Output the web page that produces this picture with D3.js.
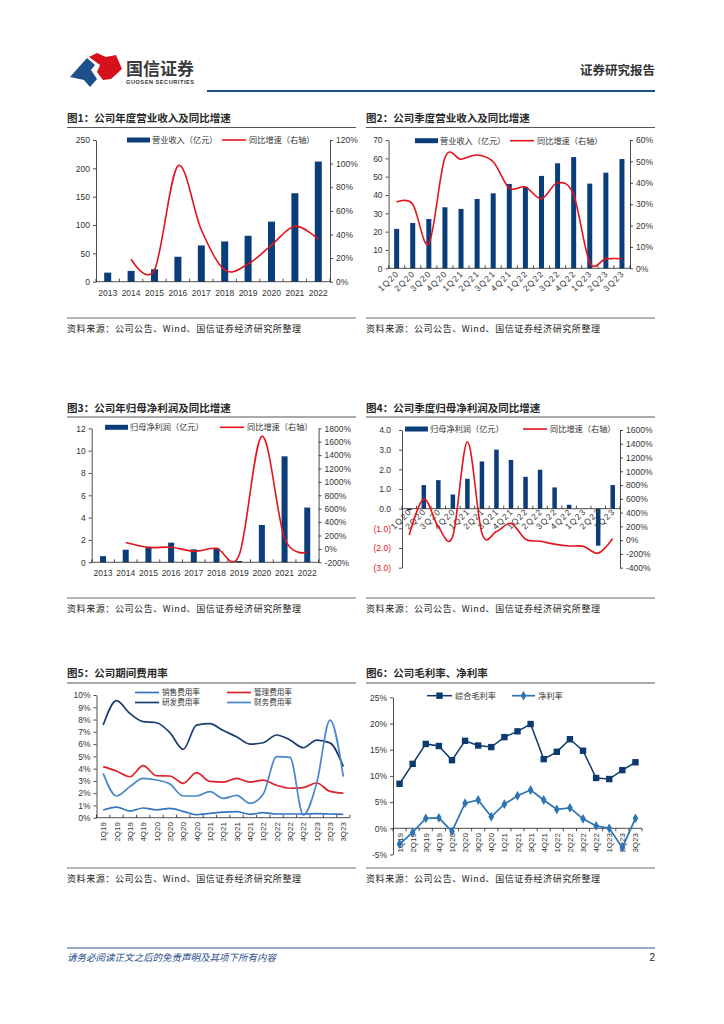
<!DOCTYPE html>
<html><head><meta charset="utf-8">
<script src="https://cdn.jsdelivr.net/npm/d3@7/dist/d3.min.js"></script>
<style>
body{margin:0;background:#fff;}
svg{display:block;}
</style></head><body>
<svg id="page" width="724" height="1024"></svg>
<script>
// ---------------- DATA ----------------
const years = ['2013','2014','2015','2016','2017','2018','2019','2020','2021','2022'];
const annualRevenue = [16,19,22,44,64,71,81,106,156,212];            // 亿元
const annualRevenueGrowth = [null,19,10,98,44,10,15,31,47,36];        // %
const revLeftTicks = [0,50,100,150,200,250];
const revRightTicks = [0,20,40,60,80,100,120];

const quarters = ['1Q20','2Q20','3Q20','4Q20','1Q21','2Q21','3Q21','4Q21','1Q22','2Q22','3Q22','4Q22','1Q23','2Q23','3Q23'];
const quarterlyRevenue = [21.5,24.7,26.9,33.3,32.4,37.8,40.9,46.0,44.5,50.4,57.3,60.7,46.2,52.2,59.6];
const quarterlyRevenueGrowth = [31,30,11.5,51.7,51,53,49.8,37.5,38,32.5,40,34.3,2.8,4.4,4.5];
const qRevLeftTicks = [0,10,20,30,40,50,60,70];
const qRevRightTicks = [0,10,20,30,40,50,60];

const annualProfit = [0.55,1.13,1.4,1.76,1.16,1.25,0.12,3.34,9.49,4.9];
const annualProfitGrowth = [null,95,22,25,-34,9,-92,1680,160,-48];
const profLeftTicks = [0,2,4,6,8,10,12];
const profRightTicks = [-200,0,200,400,600,800,1000,1200,1400,1600,1800];

const quarterlyProfit = [-0.08,1.2,1.45,0.72,1.52,2.4,3.0,2.48,1.62,1.98,1.08,0.2,0.01,-1.88,1.2];
const quarterlyProfitGrowth = [75,597,195,62,1430,100,125,244,14,-15,-58,-85,-90,-188,25];
const qProfLeftTicks = [-3,-2,-1,0,1,2,3,4];
const qProfRightTicks = [-400,-200,0,200,400,600,800,1000,1200,1400,1600];

const quarters19 = ['1Q19','2Q19','3Q19','4Q19','1Q20','2Q20','3Q20','4Q20','1Q21','2Q21','3Q21','4Q21','1Q22','2Q22','3Q22','4Q22','1Q23','2Q23','3Q23'];
const salesExpenseRate   = [0.63,0.87,0.54,0.79,0.65,0.76,0.52,0.24,0.35,0.46,0.49,0.27,0.41,0.30,0.30,0.30,0.33,0.30,0.27];
const adminExpenseRate   = [4.16,3.80,3.34,4.24,3.42,3.40,2.80,3.67,2.96,2.90,3.20,2.90,3.07,2.64,2.40,2.45,2.83,2.15,2.00];
const rdExpenseRate      = [7.55,9.54,8.50,7.83,7.74,6.93,5.57,7.55,7.66,7.10,6.60,6.00,6.11,6.74,6.33,5.70,6.33,6.10,4.16];
const financeExpenseRate = [3.61,1.77,2.53,3.20,3.07,2.74,1.77,1.77,2.12,1.58,1.82,1.17,1.93,4.97,4.92,0.22,2.80,7.96,3.34];
const expenseTicks = [0,1,2,3,4,5,6,7,8,9,10];

const grossMargin = [8.5,12.3,16.1,15.7,13.0,16.7,15.8,15.5,17.4,18.5,19.9,13.2,14.6,17.0,14.8,9.6,9.4,11.1,12.6];
const netMargin   = [-3.0,-0.8,1.9,2.0,-0.6,4.8,5.4,2.2,4.6,6.2,7.3,5.4,3.6,3.9,1.8,0.45,0.0,-3.7,1.9];
const marginTicks = [-5,0,5,10,15,20,25];

// ---------------- STYLE ----------------
const CN = '"Noto Sans CJK SC","Noto Sans",sans-serif';
const NUM = '"Liberation Sans",Arial,sans-serif';
const NAVY = '#0A3D79', RED = '#E3141C';
const svg = d3.select('#page');
svg.append('rect').attr('width',724).attr('height',1024).attr('fill','#fff');

// ---------------- HEADER / FOOTER ----------------
const logo = svg.append('g');
logo.append('path').attr('d','M70,77 L87,58 L95,65 L91,70 L97,79 L90,87 L84,80 Z').attr('fill','#1F4E8C');
logo.append('path').attr('d','M89,57 L97,53 L106,57 L116,55 L122,69 L111,79 L103,80 L97,72 L100,65 Z').attr('fill','#D7101E');
svg.append('text').attr('x',126).attr('y',75).attr('font-family',CN).attr('font-size',17).attr('font-weight','bold').attr('fill','#3a3a3a').attr('textLength',68).text('国信证券');
svg.append('text').attr('x',126).attr('y',84).attr('font-family',NUM).attr('font-size',5.6).attr('font-weight','bold').attr('fill','#333').attr('textLength',68).text('GUOSEN SECURITIES');
svg.append('line').attr('x1',207).attr('x2',655).attr('y1',91).attr('y2',91).attr('stroke','#1F4E8C').attr('stroke-width',2);
svg.append('text').attr('x',655).attr('y',75).attr('text-anchor','end').attr('font-family',CN).attr('font-size',12.5).attr('font-weight','bold').attr('fill','#333').text('证券研究报告');

svg.append('line').attr('x1',67).attr('x2',655).attr('y1',948).attr('y2',948).attr('stroke','#2F5597').attr('stroke-width',1);
svg.append('text').attr('x',67).attr('y',961).attr('font-family',CN).attr('font-size',9.5).attr('font-style','italic').attr('fill','#1F4E8C').text('请务必阅读正文之后的免责声明及其项下所有内容');
svg.append('text').attr('x',655).attr('y',961).attr('text-anchor','end').attr('font-family',NUM).attr('font-size',10).attr('fill','#222').text('2');

// ---------------- PANEL FRAMES ----------------
const SRC = '资料来源：公司公告、Wind、国信证券经济研究所整理';
function frame(x, title, titleY, underY, srcLineY, srcY){
  svg.append('text').attr('x',x).attr('y',titleY).attr('font-family',CN).attr('font-size',10.5).attr('font-weight','bold').attr('fill','#2a2a2a').text(title);
  svg.append('line').attr('x1',x).attr('x2',x+289).attr('y1',underY).attr('y2',underY).attr('stroke','#555').attr('stroke-width',1);
  svg.append('line').attr('x1',x).attr('x2',x+289).attr('y1',srcLineY).attr('y2',srcLineY).attr('stroke','#444').attr('stroke-width',0.8);
  svg.append('text').attr('x',x).attr('y',srcY).attr('font-family',CN).attr('font-size',9).attr('fill','#222').attr('textLength',234).text(SRC);
}
frame(67,'图1：公司年度营业收入及同比增速',122,127.5,318,332);
frame(366,'图2：公司季度营业收入及同比增速',122,127.5,318,332);
frame(67,'图3：公司年归母净利润及同比增速',412,417,598,612);
frame(366,'图4：公司季度归母净利润及同比增速',412,417,598,612);
frame(67,'图5：公司期间费用率',677,683,868,882);
frame(366,'图6：公司毛利率、净利率',677,683,868,882);

function styleAxis(sel, fs){
  sel.select('.domain').attr('stroke','#222').attr('stroke-width',0.8);
  sel.selectAll('.tick line').attr('stroke','#222').attr('stroke-width',0.8);
  sel.selectAll('.tick text').attr('font-family',NUM).attr('font-size',fs||8.5).attr('fill','#333');
}
function legendText(x,y,t,fs){
  svg.append('text').attr('x',x).attr('y',y).attr('dy','0.35em').attr('font-family',CN).attr('font-size',fs||8.2).attr('fill','#333').text(t);
}

// ---------------- COMBO (bar + line) ----------------
function combo(o){
  const g = svg.append('g');
  const x = d3.scaleBand().domain(o.cats).range([o.x0,o.x1]);
  const cx = c => x(c) + x.bandwidth()/2;
  const yL = d3.scaleLinear().domain(o.lDom).range([o.yBot,o.yTop]);
  const yR = d3.scaleLinear().domain(o.rDom).range([o.yBot,o.yTop]);
  const y0 = yL(0);
  g.selectAll('rect.bar').data(o.bars).join('rect')
    .attr('x',(d,i)=>cx(o.cats[i]) - o.barW/2).attr('width',o.barW)
    .attr('y',d=>Math.min(yL(d),y0)).attr('height',d=>Math.abs(yL(d)-y0))
    .attr('fill',NAVY);
  const aL = g.append('g').attr('transform',`translate(${o.x0},0)`)
    .call(d3.axisLeft(yL).tickValues(o.lTicks).tickFormat(o.lFmt).tickSize(3).tickSizeOuter(0).tickPadding(o.lPad||3));
  styleAxis(aL);
  if (o.lColor) aL.selectAll('.tick text').attr('fill',d=>o.lColor(d));
  const aR = g.append('g').attr('transform',`translate(${o.x1},0)`)
    .call(d3.axisRight(yR).tickValues(o.rTicks).tickFormat(d=>d+'%').tickSize(3).tickSizeOuter(0).tickPadding(3));
  styleAxis(aR);
  g.append('line').attr('x1',o.x0).attr('x2',o.x1).attr('y1',y0).attr('y2',y0).attr('stroke','#222').attr('stroke-width',0.8);
  g.selectAll('line.xt').data(d3.range(o.cats.length+1)).join('line')
    .attr('x1',i=>o.x0+i*x.step()).attr('x2',i=>o.x0+i*x.step())
    .attr('y1',y0).attr('y2',y0-3).attr('stroke','#222').attr('stroke-width',0.8);
  const lab = g.selectAll('text.xl').data(o.cats).join('text')
    .attr('font-family',NUM).attr('font-size',8.5).attr('fill','#333').text(d=>d);
  if (o.rot) {
    lab.attr('text-anchor','end').attr('letter-spacing',1.2)
      .attr('transform',d=>`translate(${cx(d)+3},${o.labelY}) rotate(-45)`);
  } else {
    lab.attr('text-anchor','middle').attr('x',d=>cx(d)).attr('y',o.labelY);
  }
  const pts = o.line.map((v,i)=>({c:o.cats[i],v})).filter(p=>p.v!==null);
  g.append('path').datum(pts)
    .attr('d',d3.line().x(p=>cx(p.c)).y(p=>yR(p.v)).curve(d3.curveCatmullRom.alpha(0)))
    .attr('fill','none').attr('stroke',RED).attr('stroke-width',1.6);
  const L = o.legend;
  g.append('rect').attr('x',L.bx).attr('y',L.y-2.5).attr('width',23).attr('height',5).attr('fill',NAVY);
  legendText(L.bx+25,L.y,L.bt);
  g.append('line').attr('x1',L.lx).attr('x2',L.lx+24).attr('y1',L.y).attr('y2',L.y).attr('stroke',RED).attr('stroke-width',1.6);
  legendText(L.lx+27,L.y,L.lt);
}

combo({cats:years,bars:annualRevenue,line:annualRevenueGrowth,x0:96,x1:330,yTop:140,yBot:281.7,
  lDom:[0,250],rDom:[0,120],lTicks:revLeftTicks,rTicks:revRightTicks,lFmt:d=>d,barW:7,labelY:296,
  legend:{y:140,bx:127,bt:'营业收入（亿元）',lx:222,lt:'同比增速（右轴）'}});

combo({cats:quarters,bars:quarterlyRevenue,line:quarterlyRevenueGrowth,x0:388.6,x1:630,yTop:140,yBot:268.3,
  lDom:[0,70],rDom:[0,60],lTicks:qRevLeftTicks,rTicks:qRevRightTicks,lFmt:d=>d,barW:5,labelY:274,rot:true,
  legend:{y:140.7,bx:415,bt:'营业收入（亿元）',lx:510,lt:'同比增速（右轴）'}});

combo({cats:years,bars:annualProfit,line:annualProfitGrowth,x0:91.7,x1:318.6,yTop:428.3,yBot:562.3,
  lDom:[0,12],rDom:[-200,1800],lTicks:profLeftTicks,rTicks:profRightTicks,lFmt:d=>d,barW:6,labelY:576,
  legend:{y:427.3,bx:105,bt:'归母净利润（亿元）',lx:220,lt:'同比增速（右轴）'}});

combo({cats:quarters,bars:quarterlyProfit,line:quarterlyProfitGrowth,x0:402,x1:620,yTop:430,yBot:567.7,
  lDom:[-3,4],rDom:[-400,1600],lTicks:qProfLeftTicks,rTicks:qProfRightTicks,lPad:8,
  lFmt:d=>d<0?`(${Math.abs(d).toFixed(1)})`:d.toFixed(1),lColor:d=>d<0?'#E3141C':'#333',
  barW:4.5,labelY:512,rot:true,
  legend:{y:429,bx:405,bt:'归母净利润（亿元）',lx:523,lt:'同比增速（右轴）'}});

// ---------------- CHART 5: expense ratios ----------------
(function(){
  const g = svg.append('g');
  const x = d3.scaleBand().domain(quarters19).range([96.5,350]);
  const cx = c => x(c)+x.bandwidth()/2;
  const y = d3.scaleLinear().domain([0,10]).range([817.7,695]);
  const aL = g.append('g').attr('transform','translate(96.5,0)')
    .call(d3.axisLeft(y).tickValues(expenseTicks).tickFormat(d=>d+'%').tickSize(3).tickSizeOuter(0).tickPadding(3));
  styleAxis(aL);
  g.append('line').attr('x1',96.5).attr('x2',350).attr('y1',y(0)).attr('y2',y(0)).attr('stroke','#222').attr('stroke-width',0.8);
  g.selectAll('line.xt').data(d3.range(quarters19.length+1)).join('line')
    .attr('x1',i=>96.5+i*x.step()).attr('x2',i=>96.5+i*x.step())
    .attr('y1',y(0)).attr('y2',y(0)-3).attr('stroke','#222').attr('stroke-width',0.8);
  g.selectAll('text.xl').data(quarters19).join('text')
    .attr('font-family',NUM).attr('font-size',8).attr('fill','#333').attr('text-anchor','end')
    .attr('transform',d=>`translate(${cx(d)+3},822) rotate(-90)`).text(d=>d);
  const series = [
    {v:rdExpenseRate,c:'#1B3C6E',n:'研发费用率'},
    {v:adminExpenseRate,c:'#E0202A',n:'管理费用率'},
    {v:financeExpenseRate,c:'#4A86CC',n:'财务费用率'},
    {v:salesExpenseRate,c:'#3375BF',n:'销售费用率'}
  ];
  series.forEach(s=>{
    g.append('path').datum(s.v)
      .attr('d',d3.line().x((d,i)=>cx(quarters19[i])).y(d=>y(d)).curve(d3.curveMonotoneX))
      .attr('fill','none').attr('stroke',s.c).attr('stroke-width',1.7);
  });
  const leg = [
    {s:series[3],x:135,y:692.5},{s:series[1],x:227,y:692.5},
    {s:series[0],x:135,y:702.5},{s:series[2],x:227,y:702.5}
  ];
  leg.forEach(l=>{
    g.append('line').attr('x1',l.x).attr('x2',l.x+24).attr('y1',l.y).attr('y2',l.y).attr('stroke',l.s.c).attr('stroke-width',1.7);
    legendText(l.x+27,l.y,l.s.n,7.6);
  });
})();

// ---------------- CHART 6: margins ----------------
(function(){
  const g = svg.append('g');
  const x = d3.scaleBand().domain(quarters19).range([393,642]);
  const cx = c => x(c)+x.bandwidth()/2;
  const y = d3.scaleLinear().domain([-5,25]).range([854.5,697.3]);
  const aL = g.append('g').attr('transform','translate(393,0)')
    .call(d3.axisLeft(y).tickValues(marginTicks).tickFormat(d=>d+'%').tickSize(3).tickSizeOuter(0).tickPadding(3));
  styleAxis(aL);
  g.append('line').attr('x1',393).attr('x2',642).attr('y1',y(0)).attr('y2',y(0)).attr('stroke','#222').attr('stroke-width',0.8);
  g.selectAll('line.xt').data(d3.range(quarters19.length+1)).join('line')
    .attr('x1',i=>393+i*x.step()).attr('x2',i=>393+i*x.step())
    .attr('y1',y(0)).attr('y2',y(0)+3).attr('stroke','#222').attr('stroke-width',0.8);
  g.selectAll('text.xl').data(quarters19).join('text')
    .attr('font-family',NUM).attr('font-size',8).attr('fill','#333').attr('text-anchor','end')
    .attr('transform',d=>`translate(${cx(d)+3},833) rotate(-90)`).text(d=>d);
  const GC = '#0D3A6E', NC = '#2E74B5';
  const line = d3.line().x((d,i)=>cx(quarters19[i])).y(d=>y(d));
  g.append('path').datum(grossMargin).attr('d',line).attr('fill','none').attr('stroke',GC).attr('stroke-width',1.5);
  g.append('path').datum(netMargin).attr('d',line).attr('fill','none').attr('stroke',NC).attr('stroke-width',1.7);
  g.selectAll('rect.gm').data(grossMargin).join('rect')
    .attr('x',(d,i)=>cx(quarters19[i])-3.2).attr('y',d=>y(d)-3.2).attr('width',6.4).attr('height',6.4).attr('fill',GC);
  const dia = d3.symbol().type(d3.symbolDiamond).size(28);
  g.selectAll('path.nm').data(netMargin).join('path')
    .attr('d',dia).attr('transform',(d,i)=>`translate(${cx(quarters19[i])},${y(d)})`).attr('fill',NC);
  const ly = 695.7;
  g.append('line').attr('x1',427).attr('x2',452).attr('y1',ly).attr('y2',ly).attr('stroke',GC).attr('stroke-width',1.5);
  g.append('rect').attr('x',436.3).attr('y',ly-3.2).attr('width',6.4).attr('height',6.4).attr('fill',GC);
  legendText(455,ly,'综合毛利率');
  g.append('line').attr('x1',512).attr('x2',535).attr('y1',ly).attr('y2',ly).attr('stroke',NC).attr('stroke-width',1.7);
  g.append('path').attr('d',dia).attr('transform',`translate(523.5,${ly})`).attr('fill',NC);
  legendText(538,ly,'净利率');
})();
</script>
</body></html>
